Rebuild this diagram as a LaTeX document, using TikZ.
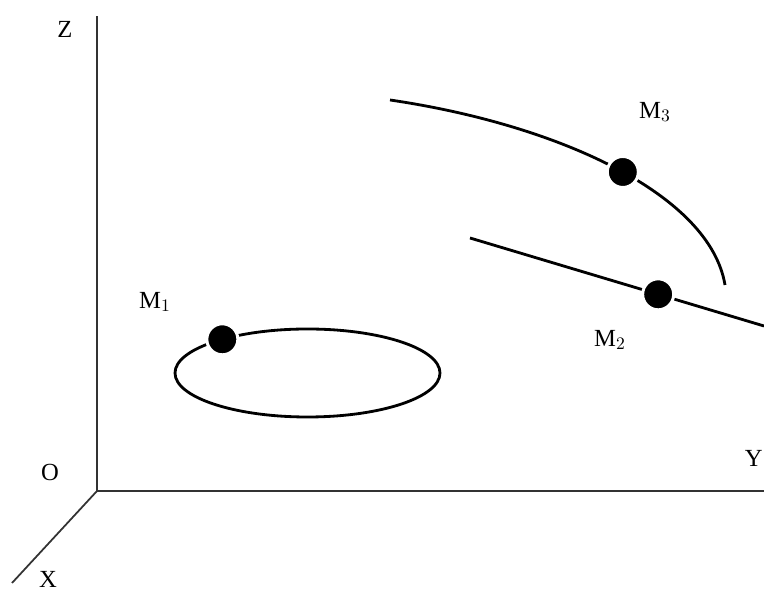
\documentclass[tikz,border=0pt]{standalone}
\usepackage{fontspec}
\setmainfont{Liberation Serif}
\usepackage{tikz}
\usetikzlibrary{positioning,calc}

\begin{document}
\begin{tikzpicture}[
    font=\fontsize{14}{16}\selectfont,
    axis/.style={draw=black!80, line width=1pt},
    track/.style={draw=black, line width=1.6pt},
    point/.style={circle, fill=black, draw=white, line width=1.7pt, minimum size=0.62cm, inner sep=0pt},
    lbl/.style={inner sep=0pt}
]
    \useasboundingbox (0,0) rectangle (15.28,11.9);

    \coordinate (O) at (1.94,2.08);
    \coordinate (zend) at (1.94,11.58);
    \coordinate (yend) at (15.28,2.08);
    \coordinate (xend) at (0.24,0.24);

    \draw[axis] (O) -- (zend);
    \draw[axis] (O) -- (yend);
    \draw[axis] (O) -- (xend);

    \node[lbl] (zlabel) at (1.30,11.32) {Z};
    \node[lbl] (olabel) at (1.00,2.46) {O};
    \node[lbl, anchor=east] (ylabel) at (15.26,2.74) {Y};
    \node[lbl, anchor=south] (xlabel) at (0.96,0.14) {X};

    % circle of M1
    \coordinate (ell) at (6.15,4.44);
    \draw[track] (ell) ellipse [x radius=2.65, y radius=0.88];
    \node[point] (m1) at ($(ell)+(130:2.65 and 0.88)$) {};
    \node[lbl] (m1label) at (3.10,5.86) {M$_1$};

    % path of M3
    \coordinate (m3start) at (7.8,9.9);
    \coordinate (m3end) at (14.5,6.2);
    \draw[track] (m3start) .. controls (11.2,9.4) and (14.2,8.0) .. (m3end) node[point, pos=0.52] (m3) {};
    \node[lbl] (m3label) at (13.1,9.66) {M$_3$};

    % line of M2
    \coordinate (m2start) at (9.4,7.14);
    \coordinate (m2end) at (15.28,5.38);
    \draw[track] (m2start) -- (m2end) node[point, pos=0.64] (m2) {};
    \node[lbl] (m2label) at (12.2,5.1) {M$_2$};

\end{tikzpicture}
\end{document}
